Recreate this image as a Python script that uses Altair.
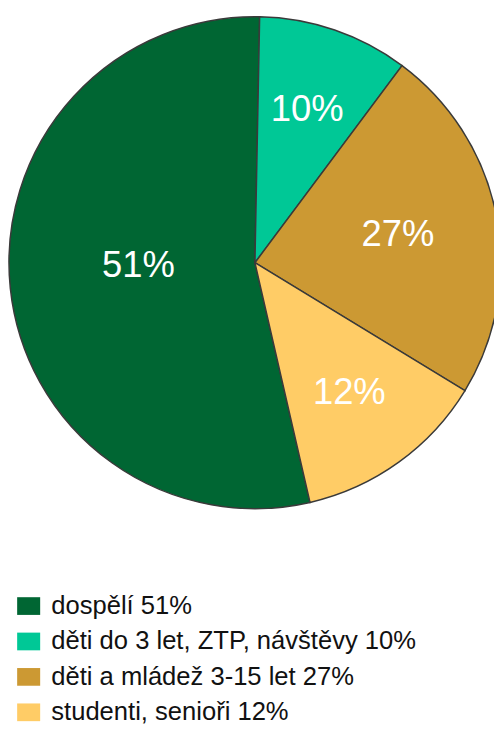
import altair as alt
import pandas as pd
import math

categories = ["dospělí 51%", "děti do 3 let, ZTP, návštěvy 10%",
              "děti a mládež 3-15 let 27%", "studenti, senioři 12%"]
# slice sizes as drawn in the picture (measured angles, in % of the circle)
slice_share = [53.9, 9.9, 23.5, 12.7]
slice_labels = ["51%", "10%", "27%", "12%"]
draw_order = [4, 1, 2, 3]
colors = ["#006633", "#00C896", "#CC9933", "#FFCC66"]

df = pd.DataFrame({
    "category": categories,
    "share": slice_share,
    "label": slice_labels,
    "order": draw_order,
})

start = math.radians(1.1)
total = sum(slice_share)
theta_scale = alt.Scale(domain=[0, total], range=[start, start + 2 * math.pi])
order = alt.Order("order:Q")

CX, CY, R = 251, 253, 250

pie = alt.Chart(df).mark_arc(stroke="#3a3a3a", strokeWidth=1.5, outerRadius=R).encode(
    theta=alt.Theta("share:Q", stack=True, scale=theta_scale),
    order=order,
    x=alt.value(CX), y=alt.value(CY),
    color=alt.Color(
        "category:N",
        scale=alt.Scale(domain=categories, range=colors),
        legend=alt.Legend(
            title=None, orient="none", legendX=8, legendY=589,
            symbolType="M-1.3,-1H1.3V1H-1.3Z", symbolSize=324,
            symbolStrokeWidth=0, symbolOpacity=1,
            labelFontSize=26, labelFont="Liberation Sans", labelColor="#111111",
            labelOffset=10, rowPadding=10, padding=0, labelLimit=500,
        ),
        sort=categories,
    ),
)


def label_layer(cond, r, dy=0):
    return alt.Chart(df).transform_stack(
        stack="share", groupby=[], as_=["s0", "s1"],
        sort=[alt.SortField("order", order="ascending")],
    ).transform_calculate(
        mid="(datum.s0 + datum.s1) / 2"
    ).transform_filter(cond).mark_text(
        font="Liberation Sans", fontSize=37, color="white", baseline="middle",
        radius=r, dy=dy,
    ).encode(
        theta=alt.Theta("mid:Q", stack=None, scale=theta_scale),
        x=alt.value(CX), y=alt.value(CY),
        text="label:N",
    )


lab_outer = label_layer((alt.datum.order == 1) | (alt.datum.order == 3), 164)
lab_mid = label_layer(alt.datum.order == 2, 148)
lab_big = label_layer(alt.datum.order == 4, 119, dy=-9)

chart = alt.layer(pie, lab_outer, lab_mid, lab_big).properties(
    width=494, height=717, autosize=alt.AutoSizeParams(type="none"), padding=0
).configure_view(stroke=None)

chart.save("out.html", embed_options={"renderer": "svg", "actions": False})
